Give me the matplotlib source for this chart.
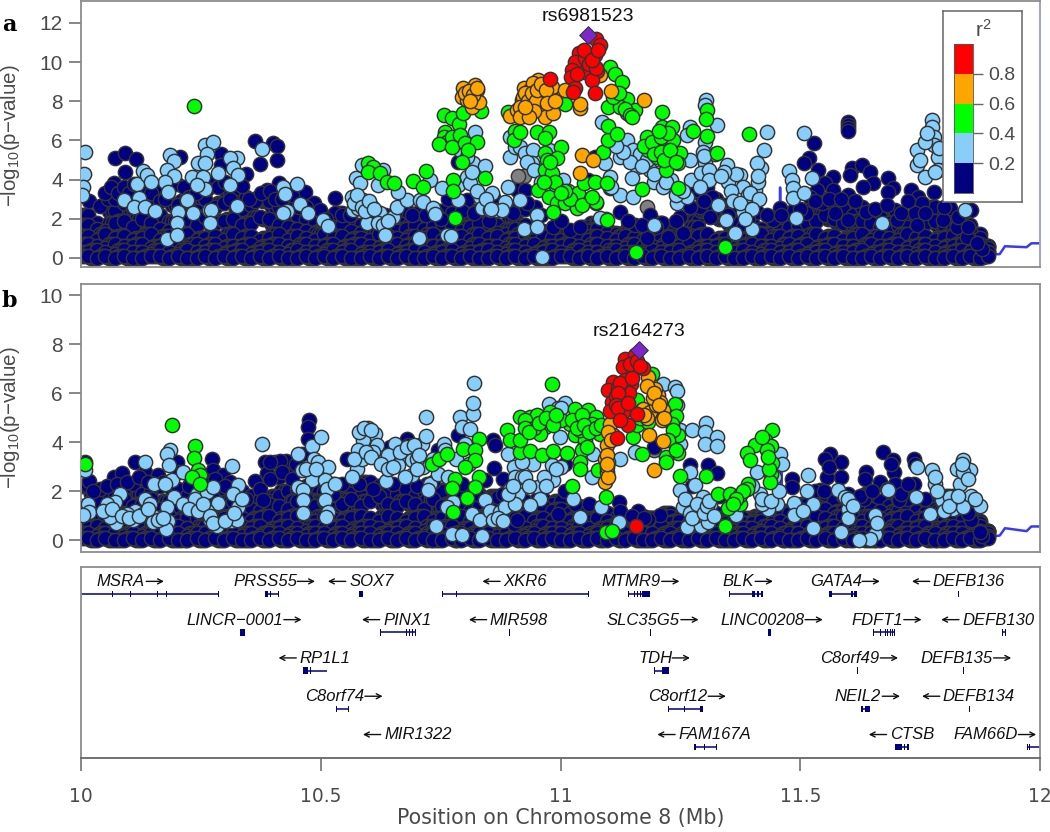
import numpy as np
import matplotlib
matplotlib.use("Agg")
import matplotlib.pyplot as plt

plt.rcParams['font.family'] = ['Liberation Sans', 'DejaVu Sans']
plt.rcParams['mathtext.default'] = 'regular'

# positions are kb past 10 Mb on chromosome 8; second value is -log10(p)
base_x1 = [2,20,39,58,77,95,114,133,152,171,190,209,228,247,266,285,304,323,342,361,
380,399,418,437,456,475,494,513,532,551,570,589,608,627,646,665,684,703,722,741,
760,779,798,817,836,855,874,893,912,931,950,969,988,1007,1026,1045,1064,1083,1102,1121,
1140,1159,1178,1197,1216,1235,1254,1273,1292,1311,1330,1349,1368,1387,1406,1425,1444,1463,1482,1501,
1520,1539,1558,1577,1596,1615,1634,1653,1672,1691,1710,1729,1748,1767,1786,1805,1824,1843,1862,1880]
base_x2 = [8,27,45,65,83,102,120,140,158,178,196,216,234,253,272,292,310,330,348,368,
386,405,425,443,463,481,501,519,539,557,577,595,615,633,653,671,691,709,729,747,
767,785,805,823,843,861,881,899,919,937,957,975,995,1013,1033,1051,1071,1089,1109,1127,
1147,1165,1185,1203,1223,1241,1261,1279,1299,1317,1337,1355,1375,1393,1413,1431,1451,1469,1489,1507,
1527,1545,1565,1583,1603,1621,1641,1659,1679,1697,1717,1735,1755,1773,1793,1811,1831,1849,1868,1886]
base_x3 = [14,33,51,71,89,108,127,146,165,184,202,222,241,259,279,298,316,336,355,374,
392,412,431,450,469,488,507,526,545,563,583,602,621,640,659,678,697,716,735,753,
773,792,811,830,849,868,887,906,925,944,963,982,1001,1020,1039,1057,1077,1096,1115,1134,
1153,1172,1191,1210,1229,1248,1267,1286,1305,1324,1343,1361,1381,1400,1419,1438,1457,1476,1495,1514,
1533,1552,1571,1590,1609,1628,1647,1666,1685,1703,1723,1742,1761,1780,1799,1818,1837,1855,1874,1892]

a_row1 = [.1,.0,.1,.0,.1,.0,.0,.1,.1,.0,.1,.0,.0,.1,.0,.1,.0,.1,.0,.1,
.0,.1,.0,.0,.1,.0,.1,.0,.1,.0,.0,.1,.0,.1,.0,.1,.0,.0,.1,.0,
.1,.0,.1,.0,.0,.1,.0,.1,.0,.1,.0,.0,.1,.1,.0,.1,.0,.1,.0,.1,
.0,.1,.0,.1,.0,.0,.1,.0,.1,.0,.1,.0,.0,.1,.0,.1,.0,.1,.0,.1,
.0,.1,.0,.1,.0,.0,.1,.0,.1,.0,.1,.0,.1,.0,.0,.1,.0,.1,.0,.1]
a_row2 = [.3,.4,.3,.2,.4,.3,.3,.2,.4,.3,.2,.4,.3,.3,.4,.2,.3,.4,.2,.3,
.4,.3,.2,.4,.3,.3,.2,.4,.3,.4,.2,.3,.3,.4,.2,.3,.4,.3,.2,.3,
.4,.2,.3,.3,.4,.3,.2,.4,.3,.2,.3,.4,.3,.2,.4,.3,.3,.2,.4,.3,
.3,.2,.4,.3,.3,.4,.2,.3,.4,.3,.2,.3,.4,.3,.2,.4,.3,.3,.4,.2,
.3,.4,.2,.3,.3,.4,.2,.3,.4,.3,.3,.2,.4,.3,.2,.3,.4,.3,.3,.3]
a_row3 = [.7,.6,.5,.7,.6,.6,.7,.5,.6,.7,.6,.5,.7,.6,.7,.5,.6,.6,.7,.5,
.6,.7,.6,.5,.7,.6,.6,.7,.5,.6,.7,.6,.5,.6,.7,.6,.7,.5,.6,.6,
.7,.6,.5,.7,.6,.6,.5,.7,.6,.7,.5,.6,.6,.7,.6,.5,.7,.6,.6,.5,
.7,.6,.6,.5,.7,.6,.7,.5,.6,.6,.7,.5,.6,.7,.6,.6,.5,.7,.6,.7,
.5,.6,.7,.6,.6,.5,.7,.6,.6,.7,.5,.6,.7,.6,.5,.6,.7,.6,.5,.3]
a_row4 = [1.1,.9,1.2,1.0,1.1,.9,1.0,1.2,.9,1.1,1.0,1.2,.9,1.0,1.1,.9,1.2,1.0,1.1,.9,
1.0,1.2,.9,1.1,1.0,.9,1.2,1.0,1.1,.9,1.0,.9,1.2,1.1,1.0,.9,1.1,1.0,1.2,.9,
1.0,1.1,.9,1.2,1.0,1.1,.9,1.0,1.2,.9,1.1,1.0,.9,1.2,1.0,.9,1.1,1.0,.9,1.1,
1.0,.9,1.2,1.0,1.1,.9,1.0,1.1,1.2,.9,1.0,1.1,.9,1.0,1.2,.9,1.1,1.0,1.1,.9,
1.2,1.0,1.1,.9,1.0,1.2,.9,1.1,1.0,.9,1.2,1.0,1.1,.9,1.0,1.1,.9,.9,.7,.5]
a_row5 = [1.7,1.5,1.4,1.8,1.9,1.6,2.0,1.8,1.5,1.4,1.9,2.0,1.7,2.1,1.8,1.9,2.0,1.7,1.8,2.1,
2.0,1.7,1.6,1.5,1.4,1.3,1.4,1.6,1.7,1.4,1.3,1.2,1.5,1.6,1.4,1.5,1.7,1.5,1.6,1.8,
1.7,1.4,1.6,1.8,1.4,1.3,1.2,1.5,1.7,1.3,1.2,1.0,1.1,1.3,1.2,1.4,1.5,1.3,1.2,1.1,
1.4,1.3,1.1,1.5,1.3,1.0,1.2,1.6,2.4,2.2,2.0,1.8,1.6,1.5,1.3,1.2,1.4,1.6,1.7,1.8,
1.9,2.2,2.0,1.8,1.7,1.9,1.8,1.6,1.4,1.7,1.6,1.5,1.8,1.9,1.7,1.5,1.6,1.4,1.0,.6]
a_row6 = [2.2,1.8,1.5,2.4,2.8,2.5,3.1,2.6,2.2,1.9,2.7,2.9,2.4,3.0,2.6,2.8,3.2,2.5,2.7,3.0,
2.9,2.6,2.4,2.2,2.0,1.8,1.9,2.1,2.3,1.8,1.7,1.6,1.9,2.1,1.8,2.0,2.2,2.0,2.1,2.4,
2.3,1.9,2.2,2.4,1.8,1.7,1.5,2.0,2.5,1.6,1.4,1.2,1.1,1.4,1.3,1.6,1.8,1.5,1.3,1.2,
1.6,1.5,1.2,1.8,1.4,1.1,1.3,1.9,3.2,3.0,2.7,2.4,2.0,1.8,1.5,1.4,1.7,1.9,2.2,2.4,
2.6,3.0,2.8,2.5,2.2,2.6,2.4,2.1,1.8,2.3,2.1,2.0,2.4,2.6,2.2,2.0,2.1,1.7,1.2,.6]

b_row1 = [.1,.0,.1,.0,.0,.1,.0,.1,.0,.1,.0,.0,.1,.0,.1,.0,.1,.0,.0,.1,
.0,.1,.0,.1,.0,.0,.1,.0,.1,.0,.1,.0,.0,.1,.0,.1,.0,.1,.0,.0,
.1,.0,.1,.0,.1,.0,.0,.1,.0,.1,.0,.1,.0,.0,.1,.0,.1,.0,.1,.0,
.1,.0,.0,.1,.0,.1,.0,.1,.0,.1,.0,.0,.1,.0,.1,.0,.1,.0,.0,.1,
.0,.1,.0,.1,.0,.1,.0,.0,.1,.0,.1,.0,.1,.0,.0,.1,.0,.1,.0,.1]
b_row2 = [.3,.2,.3,.3,.2,.3,.2,.3,.3,.2,.3,.2,.3,.3,.2,.3,.3,.2,.3,.2,
.3,.3,.2,.3,.2,.3,.3,.2,.3,.2,.3,.3,.2,.3,.3,.2,.3,.2,.3,.3,
.2,.3,.2,.3,.3,.2,.3,.3,.2,.3,.2,.3,.3,.2,.3,.2,.3,.3,.2,.3,
.2,.3,.3,.2,.3,.2,.3,.3,.2,.3,.3,.2,.3,.2,.3,.3,.2,.3,.3,.2,
.3,.2,.3,.3,.2,.3,.3,.2,.3,.2,.3,.3,.2,.3,.2,.3,.3,.2,.3,.2]
b_row3 = [.5,.6,.5,.4,.6,.5,.5,.6,.4,.5,.6,.5,.4,.6,.5,.5,.4,.6,.5,.6,
.4,.5,.6,.5,.4,.6,.5,.5,.6,.4,.5,.6,.5,.4,.5,.6,.5,.4,.6,.5,
.6,.4,.5,.5,.6,.4,.5,.6,.5,.4,.6,.5,.5,.4,.6,.5,.4,.5,.6,.4,
.5,.4,.5,.6,.4,.5,.5,.6,.4,.5,.6,.4,.5,.5,.4,.6,.5,.4,.5,.6,
.4,.5,.6,.5,.4,.6,.5,.5,.4,.6,.5,.5,.6,.4,.5,.6,.5,.4,.4,.3]
b_row4 = [.9,.8,1.0,.9,.8,.9,1.0,.8,.9,1.0,.8,.9,.9,1.0,.8,.9,1.0,.9,.8,.9,
1.0,.8,.9,1.0,.9,.8,1.0,.9,.8,.9,1.0,.9,.8,1.0,.9,.8,.9,1.0,.8,.9,
.9,1.0,.8,.9,1.0,.8,.9,.9,1.0,.8,.9,.8,.9,.8,.9,.8,.9,.8,.7,.7,
.7,.7,.6,.7,.7,.8,.7,.8,.7,.6,.7,.8,.7,.7,.8,.7,.8,.7,.8,.9,
1.0,.9,.8,1.0,.9,.8,1.0,.9,.8,.9,1.0,.8,.9,1.0,.8,.9,.8,.7,.6,.4]
b_row5 = [1.4,1.6,1.3,1.5,1.7,1.4,1.5,1.7,1.3,1.6,1.4,1.2,1.5,1.6,1.4,1.3,1.6,1.4,1.3,1.2,
1.5,1.4,1.3,1.6,1.7,1.4,1.6,1.3,1.5,1.7,1.4,1.6,1.8,1.5,1.4,1.6,1.5,1.3,1.7,1.4,
1.5,1.3,1.2,1.4,1.2,1.3,1.1,1.4,1.3,1.2,1.4,1.2,1.3,1.1,1.2,1.1,1.0,1.1,.9,.9,
.8,.9,.9,.9,1.0,.9,.8,.9,1.0,.9,.8,.9,.9,.8,.9,.9,1.0,1.1,1.0,1.1,
1.2,1.3,1.1,1.2,1.0,1.1,1.3,1.2,1.0,1.2,1.4,1.2,1.1,1.0,1.2,1.3,1.1,1.0,.7,.4]
b_row6 = [2.2,1.9,2.0,1.8,2.1,2.3,1.9,2.0,2.2,2.4,2.1,1.8,2.3,2.0,1.9,2.1,2.2,2.0,1.8,1.7,
1.6,1.8,2.0,2.1,1.9,2.2,2.0,2.3,1.9,2.1,1.8,2.4,2.2,2.0,1.9,2.1,1.8,2.0,2.3,2.0,
2.1,1.8,1.6,1.9,1.7,1.8,1.5,1.7,1.6,1.4,1.7,1.5,1.6,1.3,1.4,1.2,1.3,1.1,1.0,.9,
.9,1.0,.9,.8,1.1,1.0,.9,1.2,1.3,1.1,1.0,.9,.8,.9,1.0,.8,1.1,1.2,1.3,1.5,
1.7,1.9,1.6,1.8,1.5,1.7,1.9,1.6,1.4,1.7,1.9,1.6,1.5,1.3,1.7,1.8,1.5,1.2,.8,.4]

navy_a = [(71,5.09),(92,5.34),(115,5.06),(92,4.41),(17,2.93),(40,2.66),(68,3.85),(60,3.39),(56,3.0),(71,3.0),
(206,5.17),(293,5.31),(293,4.75),(345,4.29),(363,5.97),(401,5.85),(408,5.72),(409,4.99),(373,4.82),(412,3.85),
(467,3.39),(363,2.93),(387,3.47),(530,3.05),(530,2.28),(485,2.8),(498,2.45),(787,4.92),(804,2.96),(766,3.0),
(909,3.47),(926,3.47),(947,2.62),(985,1.6),(1124,2.37),(1155,1.69),(1187,2.2),(1211,1.77),(1225,1.09),(1249,2.11),
(1180,1.0),(1058,3.98),(1072,5.17),(1103,3.56),(1075,2.79),(1020,1.43),(1256,1.26),(1284,3.47),(1305,3.64),(1315,3.13),
(1291,2.62),(1312,2.11),(1409,2.37),(1444,1.94),(1472,2.28),(1600,6.96),(1600,6.79),(1600,6.62),(1600,6.5),(1529,5.86),
(1519,5.12),(1508,4.83),(1538,4.49),(1569,4.15),(1552,3.81),(1534,3.47),(1520,3.13),(1607,4.58),(1604,4.24),(1628,4.75),
(1645,4.41),(1652,3.81),(1631,3.64),(1684,4.07),(1693,3.56),(1684,3.39),(1638,2.37),(1600,3.22),(1600,1.94),(1569,3.47),
(1569,2.79),(1572,2.28),(1545,2.79),(1513,2.28),(1486,2.45),(1458,2.54),(1698,2.45),(1701,1.94),(1732,3.47),(1746,3.13),
(1753,2.79),(1739,2.28),(1743,1.69),(1778,3.39),(1812,2.54),(1857,2.45),(1798,1.94),(1826,1.6),(1847,1.09),(1878,.44),(1868,.75),
(160,3.4),(240,3.6),(275,3.9),(320,3.5),(345,3.1),(200,3.8),(130,3.9),(180,3.2),(425,3.4),(440,3.0),(680,2.4),(740,2.3),(655,2.3),
(600,2.3),(635,2.2),(700,2.3),(860,3.1),(880,2.6),
(50,3.3),(62,3.6),(78,3.3),(90,3.6),(100,3.3),(110,3.8),(125,3.5),(145,3.3),(165,2.9),(175,3.0),(215,3.6),(225,3.1),(240,3.3),(262,3.5),
(285,3.6),(300,3.9),(310,3.0),(335,3.7),(350,3.0),(375,3.3),(395,3.4),(405,3.0),(420,3.0),(440,3.2),(455,2.6),(470,2.6),(510,2.0),(545,2.2),
(560,2.2),(640,2.0),(690,2.2),(720,2.2),(750,2.0),(795,2.4),(820,2.3),(850,1.9),(900,2.3),(930,2.8),(960,2.2),(1000,1.9),(1040,1.6),(1095,2.0),
(1140,1.9),(1170,1.7),(1200,1.6),(1240,1.9),(1270,2.6),(1300,2.9),(1330,2.7),(1350,2.2),(1390,2.0),(1430,2.2),(1460,2.2),(1500,2.5),(1530,2.9),
(1560,3.0),(1585,3.0),(1615,2.9),(1655,2.5),(1680,2.7),(1710,2.3),(1725,2.9),(1760,2.3),(1800,2.6),(1830,2.1),(1850,1.6)]
blue_a = [(8,5.4),(6,4.27),(5,3.64),(3,3.2),(186,5.26),(193,4.95),(179,4.49),(194,4.19),(175,3.9),(182,3.39),
(222,2.96),(234,2.28),(203,2.37),(200,1.8),(179,.95),(200,1.17),(90,2.96),(116,3.78),(122,3.05),(111,2.59),
(134,2.59),(154,2.4),(130,4.44),(137,4.24),(147,3.9),(231,4.15),(245,4.83),(259,5.77),(276,5.94),(263,5.31),
(259,4.83),(255,4.15),(259,3.52),(241,3.73),(286,4.32),(266,2.45),(272,2.45),(270,1.8),(325,5.09),(311,5.09),
(318,4.58),(328,4.24),(311,3.73),(325,2.67),(378,5.55),(450,3.78),(422,3.64),(426,3.27),(457,2.76),(430,2.42),
(422,2.28),(474,2.28),(505,1.94),(516,1.65),(574,4.07),(582,3.81),(585,4.75),(565,3.13),(568,2.45),(578,2.54),
(589,2.96),(603,2.71),(606,2.62),(624,2.28),(596,1.8),(620,1.77),(630,1.69),(634,1.17),(651,2.11),(658,2.62),
(679,2.96),(662,3.39),(620,3.73),(630,4.49),(704,1.04),(763,1.17),(771,1.12),(707,2.96),(714,2.88),(735,2.54),
(738,2.23),(728,3.98),(752,3.56),(787,2.96),(787,3.73),(822,6.45),(818,4.83),(843,4.71),(804,4.15),(832,3.13),
(811,3.81),(836,2.54),(853,2.45),(858,3.3),(867,2.45),(885,2.88),(877,2.45),(891,3.64),(790,5.51),(804,5.17),
(923,1.5),(895,6.2),(895,5.17),(905,5.68),(916,2.96),(915,5.68),(926,5.34),(943,5.51),(940,4.83),(957,4.41),
(1006,3.98),(950,2.2),(950,1.6),(961,.07),(1086,6.96),(1082,2.03),(1124,3.22),(1152,3.13),(1194,3.9),(1214,3.64),
(1242,2.79),(1263,3.13),(1194,1.69),(1103,4.15),(1093,4.83),(1124,5.17),(1138,6.03),(1152,5.51),(1159,4.66),(1187,4.49),
(1270,6.71),(1263,6.28),(1270,5.0),(1273,3.98),(1303,8.07),(1301,7.81),(1326,6.79),(1301,5.94),(1298,5.43),(1301,4.83),
(1294,4.32),(1347,4.75),(1350,3.9),(1329,2.71),(1346,1.94),(1364,1.26),(1399,1.46),(1374,4.24),(1381,3.64),(1406,3.47),
(1392,2.96),(1381,2.37),(1419,4.58),(1409,4.83),(1425,5.51),(1431,6.45),(1508,6.37),(1477,4.46),(1482,3.98),(1485,3.56),
(1485,3.05),(1508,3.34),(1524,4.1),(1492,2.06),(1670,1.77),(1774,7.05),(1774,6.71),(1778,6.2),(1778,5.77),(1743,5.51),
(1743,4.75),(1760,4.15),(1788,5.17),(1788,4.49),(1844,2.45),(1165,5.3),(1180,5.0),(1210,4.4),(1230,4.0),(1145,4.9),
(1365,4.3),(1340,4.4),(1390,3.2),(1412,3.9),(1322,5.3),(1310,4.5),
(570,2.8),(575,3.2),(585,2.6),(592,2.4),(600,2.9),(612,2.5),(640,1.9),(1170,4.7),(1195,4.3),(1220,3.9),(1150,4.1),(1130,5.4),(1115,5.7),(1105,3.6),
(1240,3.2),(1255,3.4),(1300,5.2),(1310,4.0),(1290,3.6),(1335,4.2),(1355,3.4),(1360,2.9),(1375,2.8),(1395,3.3),(1412,4.2),(1415,3.0),(1400,2.5),(1385,2.0),
(1790,5.6),(1760,5.9),(1765,6.4),(1750,5.0),(1780,4.4),(930,4.9),(945,4.5),(960,3.9),(975,5.5),(990,3.7),(1015,3.4),(1000,2.9),(815,4.4),(825,3.4),(845,3.0),(855,2.5)]
green_a = [(236,7.76),(756,7.3),(773,7.13),(759,6.45),(788,6.83),(797,7.39),(756,6.2),(763,5.94),(746,5.82),(773,6.2),
(790,6.28),(773,5.68),(801,5.85),(825,5.94),(808,5.51),(795,4.88),(835,7.5),(599,4.83),(610,4.66),(599,4.41),
(624,4.32),(638,3.9),(653,3.81),(693,3.95),(719,4.46),(714,3.61),(776,3.98),(776,3.44),(781,2.06),(843,4.07),
(891,7.47),(905,6.49),(902,6.03),(915,6.45),(950,6.45),(975,6.45),(968,6.11),(1000,5.68),(968,5.34),(992,5.09),
(971,5.0),(968,4.49),(982,4.32),(988,3.9),(954,3.47),(975,3.13),(992,2.79),(985,2.37),(1009,2.79),(1034,2.54),
(1055,2.96),(1075,2.88),(1037,3.3),(1048,3.81),(1072,3.9),(1096,3.81),(1089,5.43),(1100,6.03),(1100,6.74),(1117,6.31),
(1009,7.86),(1103,9.77),(1114,9.4),(1128,8.97),(1138,8.12),(1100,7.73),(1124,7.73),(1138,7.39),(1155,7.56),(1096,1.94),
(1171,3.52),(1157,.32),(1344,.54),(1212,7.47),(1211,6.71),(1232,6.71),(1180,6.2),(1204,5.77),(1235,6.03),(1183,5.51),
(1201,5.17),(1225,5.0),(1249,5.34),(1246,4.83),(1221,4.49),(1246,3.56),(1276,6.49),(1306,7.56),(1303,7.08),(1305,6.25),(1327,5.38),(1394,6.33),
(1175,5.7),(1190,5.9),(1195,5.3),(1210,5.4),(1215,5.0),(1228,5.5),(1240,4.9),(1210,6.2),(1225,6.4),(1205,6.5),(1020,3.0),(1010,3.4),(1045,2.7),
(1065,3.1),(1000,3.3),(965,3.9),(978,4.9),(1110,8.2),(1122,8.4),(1135,7.6),(1145,7.3),(1150,7.2)]
orange_a = [(797,8.66),(822,8.83),(826,8.58),(794,8.24),(804,8.07),(815,7.73),(829,7.95),(895,7.25),(909,7.56),(919,8.07),
(923,8.66),(922,8.24),(929,7.39),(936,8.58),(954,9.09),(943,8.92),(961,8.24),(978,8.32),(982,8.75),(957,7.73),
(968,7.22),(985,7.42),(915,7.73),(915,7.22),(1009,8.58),(1041,7.64),(1041,7.86),(1105,8.54),(1174,8.07),(1041,4.32),
(1044,5.26),(1068,5.0),(1082,9.34),
(925,8.4),(932,8.0),(940,8.4),(948,8.0),(952,8.6),(960,8.9),(970,8.6),(972,7.9),(945,7.5),(935,7.2),(925,7.7),(988,8.0),(800,8.4),(810,8.5),(818,8.3),(825,8.7),(812,8.0)]
red_a = [(979,9.14),(1075,11.2),(1082,10.88),(1072,10.37),(1039,10.49),(1030,10.03),(1051,10.2),(1023,9.6),(1051,9.51),(1077,9.57),
(1065,9.09),(1021,9.23),(1030,8.66),(1027,8.49),(1072,8.41),(1060,9.9),(1075,9.7),(1035,9.4),(1050,10.6),(1065,10.1),(1078,10.6)]
gray_a = [(924,4.2),(1180,2.59),(1882,.07),(1305,.0),(926,.0),(912,4.2)]
lead_a = [(1058,11.39)]

navy_b = [(8,3.2),(17,2.41),(40,2.11),(68,2.59),(85,2.76),(113,3.2),(134,2.79),(161,2.65),(200,3.2),(274,3.33),
(276,2.86),(297,2.65),(311,2.38),(363,2.41),(373,2.11),(380,1.63),(384,3.2),(387,2.76),(404,3.2),(427,3.22),
(429,2.69),(412,2.59),(476,4.9),(474,4.63),(474,4.15),(460,3.54),(449,3.13),(554,3.31),(568,2.45),(680,4.15),
(683,3.88),(645,3.81),(787,4.29),(860,4.08),(863,3.88),(862,2.97),(881,2.52),(843,2.45),(870,1.77),(745,3.67),
(902,.68),(909,.82),(1270,3.06),(1308,3.06),(1326,2.75),(1482,2.52),(1482,2.18),(1562,3.54),(1552,3.33),(1586,3.2),
(1586,2.59),(1555,2.59),(1541,2.04),(1638,2.79),(1635,2.52),(1673,3.61),(1693,3.27),(1696,2.79),(1698,2.31),(1666,2.38),
(1737,3.33),(1737,2.31),(1632,1.7),(1722,1.7),(1705,1.63),(1857,.82),(1878,.2),(1875,.34),(1208,1.02),(1183,.88),
(1162,1.22),(1121,1.56),(1124,1.22),(1044,1.36),(995,1.09),(1009,3.13),(1194,3.81),(415,3.22),(395,3.2),(1690,3.1),(1560,3.0),(1740,3.1),
(25,2.0),(55,2.2),(75,2.3),(95,2.4),(120,2.6),(140,2.4),(170,2.4),(205,2.8),(225,2.2),(255,2.5),(280,2.5),(300,2.2),(345,1.7),(395,2.5),(420,2.8),
(440,2.5),(470,2.2),(525,1.9),(545,2.3),(580,2.3),(610,2.1),(650,2.3),(700,2.2),(735,2.4),(795,2.3),(825,1.9),(880,1.9),(1010,2.0),(1030,1.5),
(1060,1.5),(1150,1.0),(1175,.9),(1275,2.2),(1330,1.8),(1440,1.4),(1500,1.3),(1530,2.0),(1550,2.0),(1600,1.9),(1625,1.8),(1650,2.0),(1680,2.1),
(1710,1.9),(1725,2.3),(1760,1.7),(1800,1.5),(1850,1.1)]
blue_b = [(8,2.86),(15,1.5),(17,1.16),(5,1.02),(81,1.9),(71,1.56),(54,1.5),(74,.71),(60,.95),(113,1.22),
(95,1.09),(109,.82),(134,3.2),(152,2.31),(134,1.7),(144,1.5),(130,1.09),(154,.95),(151,.75),(186,3.7),
(179,3.54),(184,3.06),(189,2.45),(175,2.31),(193,1.77),(179,1.36),(181,.78),(177,.48),(213,2.79),(213,1.5),
(241,1.9),(238,1.7),(262,1.97),(276,2.18),(286,1.52),(262,1.22),(269,.82),(283,.57),(314,3.03),(328,2.24),
(318,1.9),(327,1.36),(312,.79),(326,.82),(378,3.95),(453,3.54),(460,2.86),(481,3.85),(500,4.22),(485,3.33),
(495,3.2),(516,2.99),(481,2.45),(453,2.18),(464,2.07),(464,1.63),(463,1.12),(509,2.45),(512,2.11),(509,1.63),
(516,1.16),(511,.95),(599,4.6),(613,4.35),(589,4.08),(578,3.67),(575,2.93),(565,2.59),(617,3.88),(631,3.27),
(636,2.41),(655,3.95),(672,3.47),(662,3.06),(690,2.65),(675,2.59),(690,3.27),(711,3.95),(720,4.24),(720,5.03),
(714,2.99),(728,2.31),(724,2.04),(756,3.95),(740,.59),(790,5.03),(794,4.63),(811,4.56),(818,5.17),(818,5.61),
(820,6.42),(801,3.95),(773,2.18),(776,1.56),(763,1.36),(773,.27),(795,.23),(815,1.09),(832,.82),(843,1.63),
(836,.2),(853,1.22),(860,.82),(874,1.16),(885,1.36),(895,2.11),(891,3.54),(902,2.99),(905,2.59),(912,1.9),
(905,1.5),(975,5.58),(1009,5.6),(1214,6.39),(1239,6.26),(1242,6.1),(1242,5.51),(1249,4.49),(1249,3.95),(1275,4.52),
(1303,4.8),(1301,4.42),(1326,4.22),(1301,3.95),(1327,3.85),(1124,3.33),(1155,3.6),(999,4.22),(919,2.59),(943,3.13),
(982,3.06),(954,2.18),(957,1.7),(936,1.43),(985,2.45),(1027,1.7),(1068,3.54),(1065,2.59),(1041,.95),(1121,.75),
(1085,1.36),(1270,2.79),(1249,2.04),(1281,2.24),(1298,1.77),(1256,1.36),(1263,.54),(1294,.59),(1308,.75),(1312,1.43),
(1367,1.02),(1409,2.79),(1458,3.54),(1461,3.13),(1416,1.9),(1451,1.5),(1433,1.29),(1486,1.52),(1486,1.02),(1527,1.5),
(1515,2.01),(1517,2.65),(1506,1.22),(1527,.52),(1579,2.04),(1593,1.77),(1600,1.29),(1600,.93),(1586,.34),(1656,1.02),
(1656,.27),(1645,.07),(1623,.03),(1684,2.07),(1743,2.99),(1741,1.77),(1774,2.86),(1781,2.31),(1771,1.09),(1795,1.63),
(1819,1.29),(1812,1.77),(1840,3.27),(1854,2.86),(1826,2.93),(1833,2.31),(1857,1.8),(1875,1.4),(1840,1.36),
(610,3.6),(640,3.5),(700,3.3),(1290,1.3),(1280,1.0),(1100,3.2),(1050,3.8),(1000,3.0),(1420,1.5),
(45,1.2),(65,1.3),(85,1.0),(100,.9),(120,1.0),(140,1.3),(160,.85),(170,.9),(225,1.3),(245,1.2),(255,1.5),(268,1.0),(275,.7),(300,.8),(320,1.1),(335,1.7),
(470,2.9),(490,2.9),(530,2.3),(580,4.4),(590,4.6),(605,4.5),(585,3.3),(570,3.3),(595,3.6),(605,3.4),(625,3.1),(640,2.9),(650,3.0),(665,3.6),(680,3.8),
(695,3.9),(700,2.9),(705,3.5),(735,3.3),(745,2.7),(760,3.7),(765,2.6),(782,3.3),(810,3.1),(870,.9),(880,.8),(890,1.9),(900,2.2),(920,3.2),(925,2.6),
(935,2.2),(965,2.6),(970,2.2),(990,2.9),(995,5.4),(1000,5.4),(1260,1.7),(1270,1.1),(1275,.9),(1285,1.5),(1300,1.1),(1305,1.4),(1310,1.6),(1320,1.0),
(1400,2.2),(1420,1.7),(1440,1.6),(1445,2.6),(1455,2.0),(1600,1.7),(1610,1.4),(1660,.7),(1780,2.6),(1785,2.0),(1800,1.2),(1810,1.4),(1830,1.8),(1840,2.8),
(1850,2.5),(1865,1.7),(1838,3.1)]
green_b = [(189,4.69),(8,3.13),(238,3.85),(236,3.37),(243,2.86),(248,2.65),(231,2.59),(249,2.29),(733,3.13),(747,3.33),
(763,3.54),(797,3.74),(829,4.12),(822,3.67),(822,3.27),(801,2.99),(829,2.59),(822,2.18),(781,2.49),(773,2.15),
(805,1.74),(776,1.16),(888,4.49),(895,4.08),(916,3.6),(916,5.03),(915,4.08),(936,5.03),(950,5.1),(978,5.24),
(982,6.39),(968,4.63),(957,4.35),(936,3.65),(961,3.5),(985,3.65),(1013,3.58),(1037,5.03),(1030,5.37),(1058,5.31),
(1075,5.03),(1020,4.76),(1030,4.29),(1065,4.76),(1082,4.33),(1051,4.08),(1044,3.67),(1041,3.2),(1079,2.86),(1023,2.2),
(1095,1.77),(1094,.34),(1107,.38),(1169,3.51),(1152,4.22),(1159,4.69),(1183,4.83),(1159,5.71),(1190,6.8),(1239,5.55),
(1240,5.06),(1246,4.31),(1246,3.56),(1221,3.4),(1219,3.2),(1232,4.76),(1249,2.63),(1303,2.63),(1329,1.9),(1353,1.9),
(1374,1.5),(1349,1.32),(1344,.57),(1392,2.31),(1388,2.11),(1374,1.84),(1442,4.52),(1426,4.08),(1406,3.88),(1388,3.56),
(1395,3.29),(1440,3.85),(1430,3.67),(1442,3.17),(1440,2.72),(1437,2.38),(925,4.9),(945,4.6),(1000,4.9),(1040,4.5),
(925,4.6),(935,4.4),(955,4.8),(970,5.0),(985,4.7),(990,5.1),(1025,4.9),(1035,4.6),(1045,5.1),(1050,4.7),(1060,4.4),(1075,4.6),(1085,4.7),(1055,3.8),
(1040,2.9),(1235,4.5),(1225,4.1),(1240,3.7),(1170,5.3),(1180,5.2),(1165,5.0),(1200,5.6),(1435,2.9),(1432,3.4),(1420,4.2),(1380,2.0),(1365,1.7),(1360,1.5)]
orange_b = [(1194,2.86),(1185,4.29),(1214,4.04),(1214,5.31),(1211,4.9),(1204,5.92),(1197,6.19),(1183,6.67),(1207,5.65),(1173,5.37),
(1187,5.24),(1103,4.76),(1110,4.29),(1098,3.88),(1093,3.33),(1098,2.79),(1093,2.38),(1096,3.0),(1200,5.5),(1192,5.8),
(1180,6.3),(1195,6.0),(1205,5.5),(1215,5.0),(1180,5.0),(1175,5.1),(1100,4.4),(1105,4.1),(1097,3.5),(1100,2.6),(1096,3.1)]
red_b = [(1134,7.41),(1155,7.55),(1131,7.07),(1173,7.01),(1152,6.94),(1110,6.46),(1134,6.53),(1148,6.39),(1100,6.12),(1128,5.85),
(1107,5.65),(1103,5.27),(1131,5.24),(1159,5.17),(1141,4.69),(1117,4.18),(1157,.57),(1115,5.9),(1143,6.0),(1120,6.2),
(1145,7.2),(1160,7.3),(1165,7.1),(1125,6.4),(1120,6.0),(1115,5.5),(1120,5.4),(1125,4.9),(1140,5.6),(1150,6.6)]
gray_b = [(1194,3.7),(1880,.05)]
lead_b = [(1164,7.76)]

recomb_a_x = [0,1457,1458,1459,1759,1760,1761,1890,1916,1927,1972,1982,2000]
recomb_a_y = [.2,.2,3.6,.2,.2,2.6,.2,.15,.2,.6,.55,.75,.75]
recomb_b_x = [0,1460,1461,1462,1890,1916,1927,1972,1982,2000]
recomb_b_y = [.15,.15,2.9,.15,.15,.2,.5,.38,.57,.57]

gene_names = ['MSRA','PRSS55','SOX7','XKR6','LINCR\u22120001','PINX1','MIR598','RP1L1','C8orf74','MIR1322',
              'MTMR9','BLK','GATA4','DEFB136','SLC35G5','LINC00208','FDFT1','DEFB130','TDH','C8orf49',
              'DEFB135','C8orf12','NEIL2','DEFB134','FAM167A','CTSB','FAM66D']
gene_rows = [0,0,0,0,1,1,1,2,3,4, 0,0,0,0,1,1,1,1,2,2, 2,3,3,3,4,4,4]
gene_strand = [1,1,-1,-1,1,-1,-1,-1,1,-1, 1,1,1,-1,1,1,1,-1,1,1, 1,1,1,-1,-1,-1,1]
gene_label_left = [33,317,559,880,219,630,852,456,467,632,
                   1086,1338,1521,1776,1096,1333,1606,1838,1162,1542,
                   1751,1183,1572,1797,1246,1687,1820]
gene_arrow_left = [136,451,515,837,423,586,809,412,592,588,
                   1211,1406,1629,1733,1251,1510,1716,1794,1233,1667,
                   1903,1308,1671,1754,1202,1643,1955]
gene_start = [0,383,580,753,331,623,893,463,531,682,1141,1351,1561,1831,1188,1432,1652,1921,1196,1619,1840,1225,1627,1852,1279,1698,1972]
gene_end = [287,412,589,1058,341,698,893,513,558,682,1187,1423,1618,1831,1188,1439,1697,1929,1227,1619,1840,1297,1646,1852,1325,1727,2000]
gene_exons = [[(65,2),(102,2),(159,2),(177,2),(286,2)],
 [(383,8),(395,2),(411,2)],[(580,9)],[(753,2),(782,2),(1057,2)],[(331,10)],
 [(623,2),(678,2),(685,2),(691,2),(697,2)],[(892,2)],[(463,11),(477,2),(512,2)],[(531,3),(556,3)],[(681,2)],
 [(1141,2),(1146,2),(1153,2),(1160,2),(1166,2),(1171,16)],[(1351,2),(1399,7),(1409,5),(1418,5)],
 [(1561,5),(1606,4),(1613,5)],[(1830,2)],[(1187,2)],[(1432,7)],
 [(1652,2),(1657,2),(1666,2),(1676,2),(1681,2),(1687,2),(1692,2),(1696,2)],[(1921,2),(1928,2)],
 [(1196,2),(1212,15)],[(1618,3)],[(1839,3)],[(1225,2),(1242,2),(1258,2),(1291,6)],[(1627,4),(1635,11)],
 [(1851,3)],[(1279,3),(1300,2),(1324,2)],[(1698,14),(1716,3),(1723,4)],[(1972,2),(1977,2)]]

ld_edges = [0,.2,.4,.6,.8,1.0]
ld_colors = ['#000080','#87CEFA','#00FF00','#FFA500','#FF0000']
ld_ticks = [.2,.4,.6,.8]
NAVY, BLUE, GREEN, ORANGE, RED = ld_colors
W, H = 1050, 832
FRAME = '#8c8c8c'
TXT = '#4a4a4a'
EDGE = '#333333'
SIZE = 106

fig = plt.figure(figsize=(W/100, H/100), dpi=100)
def axpx(l, t, r, b):
    return fig.add_axes([l/W, 1-b/H, (r-l)/W, (b-t)/H])
def style(ax):
    for s in ax.spines.values():
        s.set_color(FRAME); s.set_linewidth(1.3)

def pts(ax, data, col, z):
    d = np.array(data, float).reshape(-1, 2)
    ax.scatter(10+d[:,0]/1000, d[:,1], s=SIZE, c=col, edgecolors=EDGE, linewidths=1.05, zorder=z)

def panel(ax, rows, navy, blue, green, orange, red, gray, lead, rx, ry, rsid, ylim, ticks):
    ax.plot(10+np.array(rx)/1000, ry, color='#3a3af0', lw=1.8, zorder=1)
    xsets = [base_x1, base_x2, base_x3]
    for i in (5, 4, 3, 2, 1, 0):
        for xs in xsets:
            n = min(len(xs), len(rows[i]))
            ax.scatter(10+np.array(xs[:n])/1000, rows[i][:n], s=SIZE, c=NAVY, edgecolors=EDGE, linewidths=1.1, zorder=1.8)
    pts(ax, gray, '#808080', 1.5)
    pts(ax, navy, NAVY, 2)
    pts(ax, blue, BLUE, 3)
    pts(ax, green, GREEN, 4)
    pts(ax, orange, ORANGE, 5)
    pts(ax, red, RED, 6)
    d = np.array(lead, float)
    ax.scatter(10+d[:,0]/1000, d[:,1], s=80, marker='D', c='#7D26CD', edgecolors=EDGE, linewidths=.8, zorder=7)
    ax.annotate(rsid, (10+d[0,0]/1000, d[0,1]), xytext=(0, 7), textcoords='offset points',
                ha='center', va='bottom', fontsize=14, color='#111111', zorder=8)
    ax.set_xlim(10, 12); ax.set_ylim(*ylim)
    ax.set_yticks(ticks); ax.set_xticks([])
    ax.tick_params(axis='y', length=9, width=1.1, color='#666666', labelcolor=TXT, labelsize=15, pad=4)
    style(ax)

ax_a = axpx(81, 1, 1040, 267)
panel(ax_a, [a_row1,a_row2,a_row3,a_row4,a_row5,a_row6], navy_a, blue_a, green_a, orange_a, red_a, gray_a, lead_a,
      recomb_a_x, recomb_a_y, 'rs6981523', (-.46, 13.12), [0,2,4,6,8,10,12])
ax_a.spines['right'].set_color('#9a9ac8')
ax_b = axpx(81, 284, 1040, 552)
panel(ax_b, [b_row1,b_row2,b_row3,b_row4,b_row5,b_row6], navy_b, blue_b, green_b, orange_b, red_b, gray_b, lead_b,
      recomb_b_x, recomb_b_y, 'rs2164273', (-.47, 10.45), [0,2,4,6,8,10])

fig.text(2/W, 1-25/H, 'a', family='DejaVu Serif', weight='bold', fontsize=16, va='center', color='black')
fig.text(2/W, 1-301/H, 'b', family='DejaVu Serif', weight='bold', fontsize=16, va='center', color='black')
for yc in (136, 418):
    fig.text(11/W, 1-yc/H, '\u2212log$_{10}$(p\u2212value)', rotation=90, ha='center', va='center', fontsize=14.8, color=TXT)

# LD legend
box = axpx(943, 11, 1022, 202)
box.set_xticks([]); box.set_yticks([]); box.set_facecolor('white'); box.set_zorder(10)
for s in box.spines.values():
    s.set_color('#666666'); s.set_linewidth(1.1)
cb = axpx(954, 44, 973, 193)
cb.set_zorder(11)
cb.bar([0]*5, np.diff(ld_edges), bottom=ld_edges[:-1], width=1, color=ld_colors, linewidth=0)
cb.set_xlim(-.5, .5); cb.set_ylim(0, 1); cb.set_xticks([])
cb.yaxis.tick_right(); cb.set_yticks(ld_ticks)
cb.set_yticklabels([str(t) for t in ld_ticks])
cb.tick_params(axis='y', length=7, width=1, color='#666666', labelcolor=TXT, labelsize=14, pad=4)
for s in cb.spines.values():
    s.set_color('#555555'); s.set_linewidth(.6)
t = fig.text(983/W, 1-30/H, 'r$^2$', ha='center', va='center', fontsize=15, color=TXT)
t.set_zorder(12)

# genes
ax_g = axpx(81, 567, 1040, 757.5)
ax_g.set_xlim(10, 12); ax_g.set_ylim(4.27, -.705)
ax_g.set_yticks([])
ax_g.set_xticks([10, 10.5, 11, 11.5, 12]); ax_g.set_xticklabels(['10','10.5','11','11.5','12'], family='DejaVu Sans')
ax_g.tick_params(axis='x', length=9.5, width=1.1, color='#666666', labelcolor=TXT, labelsize=13.4, pad=12)
style(ax_g)
ax_g.spines['bottom'].set_color('#666666')
ax_g.set_xlabel('Position on Chromosome 8 (Mb)', family='DejaVu Sans', fontsize=14.8, color=TXT, labelpad=1.5)
for i, name in enumerate(gene_names):
    r = gene_rows[i]
    ax_g.plot([10+gene_start[i]/1000, 10+gene_end[i]/1000], [r, r], color=NAVY, lw=1.1, solid_capstyle='butt', clip_on=True)
    ax_g.broken_barh([(10+s/1000, w/1000) for s, w in gene_exons[i]], (r-.085, .17), facecolors=NAVY, linewidth=0)
    ax_g.text(10+gene_label_left[i]/1000, r-.32, name, style='italic', fontsize=12, ha='left', va='center', color='#111111')
    a0 = 10+gene_arrow_left[i]/1000; a1 = a0+.037
    tail, head = (a0, a1) if gene_strand[i] > 0 else (a1, a0)
    ax_g.annotate('', xy=(head, r-.33), xytext=(tail, r-.33),
                  arrowprops=dict(arrowstyle='->,head_length=.35,head_width=.18', color='#111111', lw=1, shrinkA=0, shrinkB=0))

fig.savefig('out.png', dpi=100)
